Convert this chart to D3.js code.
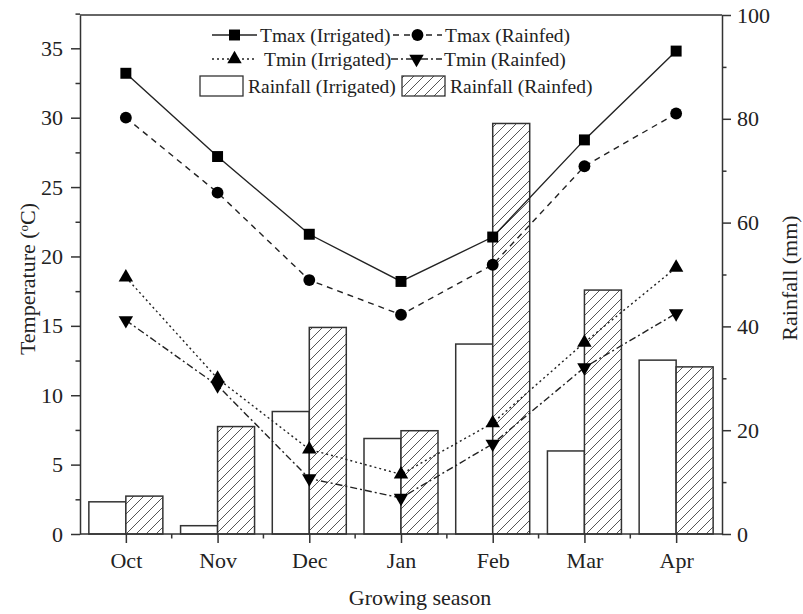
<!DOCTYPE html>
<html>
<head>
<meta charset="utf-8">
<script src="https://cdn.jsdelivr.net/npm/d3@7"></script>
<style>
  body { margin: 0; background: #fff; }
  svg { display: block; }
  text { font-family: "Liberation Serif", "DejaVu Serif", serif; fill: #222; }
</style>
</head>
<body>
<svg id="chart" width="803" height="614"></svg>
<script>
const months = ["Oct", "Nov", "Dec", "Jan", "Feb", "Mar", "Apr"];
const tmaxIrrigated = [33.2, 27.2, 21.6, 18.2, 21.4, 28.4, 34.8];
const tmaxRainfed   = [30.0, 24.6, 18.3, 15.8, 19.4, 26.5, 30.3];
const tminIrrigated = [18.5, 11.2, 6.1, 4.3, 8.0, 13.8, 19.2];
const tminRainfed   = [15.4, 10.7, 4.0, 2.6, 6.5, 12.0, 15.9];
const rainIrrigated = [6.2, 1.6, 23.6, 18.4, 36.6, 16.0, 33.5];
const rainRainfed   = [7.3, 20.7, 39.8, 19.9, 79.1, 47.0, 32.2];
const tempTicks = [0, 5, 10, 15, 20, 25, 30, 35];
const rainTicks = [0, 20, 40, 60, 80, 100];

const svg = d3.select("#chart");
const L = 80, R = 722, T = 15, B = 534;
const ink = "#222";

const x = d3.scalePoint().domain(months).range([L, R]).padding(0.5);
const yT = d3.scaleLinear().domain([0, 37.4]).range([B, T]);
const yR = d3.scaleLinear().domain([0, 100]).range([B, T]);
const barW = 37;

// hatch pattern
const defs = svg.append("defs");
const pat = defs.append("pattern").attr("id", "hatch").attr("patternUnits", "userSpaceOnUse")
  .attr("width", 10).attr("height", 10);
pat.append("rect").attr("width", 10).attr("height", 10).attr("fill", "#fff");
pat.append("path").attr("d", "M-1,11 L11,-1 M-6,6 L6,-6 M4,16 L16,4")
  .attr("stroke", "#555").attr("stroke-width", 1);

// bars
const plot = svg.append("g");
plot.selectAll("rect.irr").data(months).join("rect").attr("class", "irr")
  .attr("x", d => x(d) - barW).attr("width", barW)
  .attr("y", (d, i) => yR(rainIrrigated[i])).attr("height", (d, i) => B - yR(rainIrrigated[i]))
  .attr("fill", "#fff").attr("stroke", "#333").attr("stroke-width", 1.5);
plot.selectAll("rect.rf").data(months).join("rect").attr("class", "rf")
  .attr("x", d => x(d)).attr("width", barW)
  .attr("y", (d, i) => yR(rainRainfed[i])).attr("height", (d, i) => B - yR(rainRainfed[i]))
  .attr("fill", "url(#hatch)").attr("stroke", "#333").attr("stroke-width", 1.5);

// series
const series = [
  { name: "Tmax (Irrigated)", values: tmaxIrrigated, dash: null, sym: d3.symbolSquare, size: 120, rot: 0 },
  { name: "Tmax (Rainfed)", values: tmaxRainfed, dash: "6,5", sym: d3.symbolCircle, size: 110, rot: 0 },
  { name: "Tmin (Irrigated)", values: tminIrrigated, dash: "2,3", sym: d3.symbolTriangle, size: 90, rot: 0 },
  { name: "Tmin (Rainfed)", values: tminRainfed, dash: "7,3,2,3", sym: d3.symbolTriangle, size: 90, rot: 180 }
];
const line = d3.line().x(d => x(d.m)).y(d => yT(d.v));
series.forEach(s => {
  const pts = months.map((m, i) => ({ m, v: s.values[i] }));
  plot.append("path").datum(pts).attr("d", line).attr("fill", "none")
    .attr("stroke", ink).attr("stroke-width", 1.4)
    .attr("stroke-dasharray", s.dash);
  plot.selectAll(null).data(pts).join("path")
    .attr("d", d3.symbol().type(s.sym).size(s.size))
    .attr("transform", d => `translate(${x(d.m)},${yT(d.v)}) rotate(${s.rot})`)
    .attr("fill", "#000");
});

// axes
const axStyle = g => {
  g.selectAll("path.domain").attr("stroke", "#333").attr("stroke-width", 1.5);
  g.selectAll(".tick line").attr("stroke", "#333").attr("stroke-width", 1.5);
  g.selectAll(".tick text").style("font-family", '"Liberation Serif", serif').style("font-size", "22px").attr("fill", ink);
};
// bottom
const gx = svg.append("g").attr("transform", `translate(0,${B})`)
  .call(d3.axisBottom(x).tickSize(9).tickSizeOuter(0).tickPadding(9)).call(axStyle);
gx.select("path.domain").attr("d", `M${L},0H${R}`);
const mids = months.slice(1).map((m, i) => (x(months[i]) + x(m)) / 2);
svg.append("g").selectAll("line").data(mids).join("line")
  .attr("x1", d => d).attr("x2", d => d).attr("y1", B).attr("y2", B + 4.5)
  .attr("stroke", "#333").attr("stroke-width", 1.5);

// left
svg.append("g").attr("transform", `translate(${L},0)`)
  .call(d3.axisLeft(yT).tickValues(tempTicks).tickSize(9).tickSizeOuter(0).tickPadding(8)).call(axStyle);
svg.append("g").attr("transform", `translate(${L},0)`)
  .call(d3.axisLeft(yT).tickValues(tempTicks.map(t => t + 2.5)).tickSize(4.5).tickFormat("")).call(axStyle)
  .select("path.domain").remove();
// right
svg.append("g").attr("transform", `translate(${R},0)`)
  .call(d3.axisRight(yR).tickValues(rainTicks).tickSize(9).tickSizeOuter(0).tickPadding(6)).call(axStyle);
svg.append("g").attr("transform", `translate(${R},0)`)
  .call(d3.axisRight(yR).tickValues(rainTicks.slice(0, -1).map(t => t + 10)).tickSize(4.5).tickFormat("")).call(axStyle)
  .select("path.domain").remove();
// top frame
svg.append("line").attr("x1", L).attr("x2", R).attr("y1", T).attr("y2", T)
  .attr("stroke", "#333").attr("stroke-width", 1.5);

// titles
svg.append("text").attr("x", 420).attr("y", 605).attr("text-anchor", "middle")
  .style("font-size", "22px").text("Growing season");
const lt = svg.append("text").attr("transform", "translate(35,279) rotate(-90)")
  .attr("text-anchor", "middle").style("font-size", "22px");
lt.append("tspan").text("Temperature (");
lt.append("tspan").attr("dy", -7).style("font-size", "13px").text("o");
lt.append("tspan").attr("dy", 7).text("C)");
svg.append("text").attr("transform", "translate(797,278) rotate(-90)")
  .attr("text-anchor", "middle").style("font-size", "22px").text("Rainfall (mm)");

// legend
const leg = svg.append("g");
const legRows = [
  { s: series[0], x0: 212, x1: 257, tx: 260, y: 35 },
  { s: series[1], x0: 393, x1: 442, tx: 445, y: 35 },
  { s: series[2], x0: 212, x1: 257, tx: 264, y: 59 },
  { s: series[3], x0: 391, x1: 442, tx: 444, y: 59 }
];
legRows.forEach(r => {
  leg.append("line").attr("x1", r.x0).attr("x2", r.x1).attr("y1", r.y).attr("y2", r.y)
    .attr("stroke", ink).attr("stroke-width", 1.4).attr("stroke-dasharray", r.s.dash);
  leg.append("path").attr("d", d3.symbol().type(r.s.sym).size(r.s.size))
    .attr("transform", `translate(${(r.x0 + r.x1) / 2},${r.y}) rotate(${r.s.rot})`).attr("fill", "#000");
  leg.append("text").attr("x", r.tx).attr("y", r.y + 7).style("font-size", "19.5px").text(r.s.name);
});
leg.append("rect").attr("x", 200).attr("y", 76).attr("width", 43).attr("height", 20)
  .attr("fill", "#fff").attr("stroke", "#333").attr("stroke-width", 1.3);
leg.append("text").attr("x", 248).attr("y", 93).style("font-size", "19.5px").text("Rainfall (Irrigated)");
leg.append("rect").attr("x", 402).attr("y", 76).attr("width", 43).attr("height", 20)
  .attr("fill", "url(#hatch)").attr("stroke", "#333").attr("stroke-width", 1.3);
leg.append("text").attr("x", 450).attr("y", 93).style("font-size", "19.5px").text("Rainfall (Rainfed)");
</script>
</body>
</html>
